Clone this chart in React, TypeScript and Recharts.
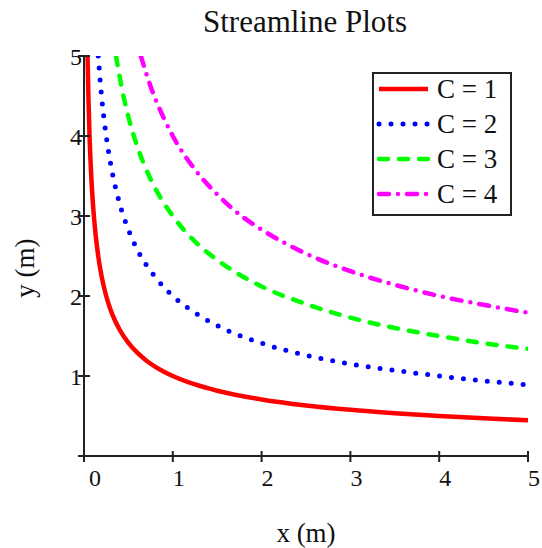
import React from 'react';
import { LineChart, Line, XAxis, YAxis, Label } from 'recharts';

// values, one x/y pair of lists per curve
const xC1 = [0.04, 0.05, 0.06, 0.08, 0.1, 0.13, 0.16, 0.2, 0.25, 0.3, 0.35, 0.4, 0.5, 0.6, 0.7, 0.8, 0.9, 1, 1.25, 1.5, 2, 2.5, 3, 3.5, 4, 4.5, 5];
const yC1 = [5, 4.472, 4.082, 3.536, 3.162, 2.774, 2.5, 2.236, 2, 1.826, 1.69, 1.581, 1.414, 1.291, 1.195, 1.118, 1.054, 1, 0.894, 0.816, 0.707, 0.632, 0.577, 0.535, 0.5, 0.471, 0.447];

const xC2 = [0.16, 0.2, 0.25, 0.3, 0.4, 0.5, 0.6, 0.8, 1, 1.25, 1.5, 2, 2.5, 3, 3.5, 4, 4.5, 5];
const yC2 = [5, 4.47, 4, 3.65, 3.16, 2.83, 2.58, 2.24, 2, 1.79, 1.63, 1.41, 1.26, 1.15, 1.07, 1, 0.94, 0.89];

const xC3 = [0.36, 0.45, 0.5, 0.6, 0.75, 0.9, 1, 1.25, 1.5, 2, 2.5, 3, 3.5, 4, 4.5, 5];
const yC3 = [5, 4.47, 4.24, 3.87, 3.46, 3.16, 3, 2.68, 2.45, 2.12, 1.9, 1.73, 1.6, 1.5, 1.41, 1.34];

const xC4 = [0.64, 0.75, 0.9, 1, 1.25, 1.5, 1.75, 2, 2.5, 3, 3.5, 4, 4.5, 5];
const yC4 = [5, 4.62, 4.22, 4, 3.58, 3.27, 3.02, 2.83, 2.53, 2.31, 2.14, 2, 1.89, 1.79];

const xTicks = [0, 1, 2, 3, 4, 5];
const yTicks = [0, 1, 2, 3, 4, 5];

const FONT = "'Liberation Serif', 'Times New Roman', serif";
const AXIS = '#222';

const zip = (xs: number[], ys: number[]) => xs.map((x, i) => ({ x, y: ys[i] }));

const series = [
  { name: 'C = 1', data: zip(xC1, yC1), color: '#ff0000', width: 4.5, dash: undefined, cap: 'butt' },
  { name: 'C = 2', data: zip(xC2, yC2), color: '#0000ff', width: 5, dash: '0 12', cap: 'round' },
  { name: 'C = 3', data: zip(xC3, yC3), color: '#00ff00', width: 4.5, dash: '9 11', cap: 'round' },
  { name: 'C = 4', data: zip(xC4, yC4), color: '#ff00ff', width: 4.5, dash: '10 9 0 9', cap: 'round' },
];

const XTick = ({ x, y, payload }: any) => (
  <g>
    <line x1={x} x2={x} y1={y - 5} y2={y + 6} stroke={AXIS} strokeWidth={2} />
    <text x={x + (payload.value === 0 ? 5 : 0)} y={y + 30} fontSize={24} fontFamily={FONT} fill="#111" textAnchor="start">
      {payload.value}
    </text>
  </g>
);

const YTick = ({ x, y, payload }: any) => (
  <g>
    <line x1={x - 6} x2={x + 6} y1={y} y2={y} stroke={AXIS} strokeWidth={2} />
    {payload.value !== 0 && (
      <text x={x - 2} y={y + 8.5} fontSize={24} fontFamily={FONT} fill="#111" textAnchor="end">
        {payload.value}
      </text>
    )}
  </g>
);

const LegendBox = () => (
  <div
    style={{
      position: 'absolute',
      left: 372,
      top: 72,
      width: 140,
      height: 144,
      boxSizing: 'border-box',
      border: `2px solid ${AXIS}`,
      background: '#fff',
    }}
  >
    <svg width={136} height={140}>
      {series.map((s, i) => (
        <g key={s.name}>
          <line
            x1={5}
            x2={54}
            y1={15 + i * 35}
            y2={15 + i * 35}
            stroke={s.color}
            strokeWidth={s.width}
            strokeDasharray={s.dash}
            strokeLinecap={s.cap as any}
          />
          <text x={63} y={24 + i * 35} fontSize={27} fontFamily={FONT} fill="#111">
            {s.name}
          </text>
        </g>
      ))}
    </svg>
  </div>
);

export default function App() {
  return (
    <div style={{ position: 'absolute', left: 0, top: 0, width: 542, height: 548, background: '#fff', fontFamily: FONT }}>
      <div
        style={{
          position: 'absolute',
          left: 0,
          top: 7,
          width: 610,
          textAlign: 'center',
          fontSize: 31,
          lineHeight: '30px',
          color: '#111',
        }}
      >
        Streamline Plots
      </div>
      <LineChart width={542} height={548} margin={{ top: 56, right: 14, left: 0, bottom: 0 }}>
        <XAxis
          type="number"
          dataKey="x"
          domain={[0, 5]}
          ticks={xTicks}
          allowDataOverflow
          height={92}
          tickSize={0}
          tickMargin={0}
          tickLine={false}
          axisLine={{ stroke: AXIS, strokeWidth: 2 }}
          tick={<XTick />}
          interval={0}
        >
          <Label
            content={({ viewBox }: any) => (
              <text
                x={viewBox.x + viewBox.width / 2}
                y={viewBox.y + 86}
                textAnchor="middle"
                fontSize={27}
                fontFamily={FONT}
                fill="#111"
              >
                x (m)
              </text>
            )}
          />
        </XAxis>
        <YAxis
          type="number"
          dataKey="y"
          domain={[0, 5]}
          ticks={yTicks}
          allowDataOverflow
          width={84}
          tickSize={0}
          tickMargin={0}
          tickLine={false}
          axisLine={{ stroke: AXIS, strokeWidth: 2 }}
          tick={<YTick />}
          interval={0}
        >
          <Label
            content={({ viewBox }: any) => {
              const cx = 34;
              const cy = viewBox.y + viewBox.height / 2 + 12;
              return (
                <text
                  x={cx}
                  y={cy}
                  transform={`rotate(-90 ${cx} ${cy})`}
                  textAnchor="middle"
                  fontSize={27}
                  fontFamily={FONT}
                  fill="#111"
                >
                  y (m)
                </text>
              );
            }}
          />
        </YAxis>
        {series.map((s) => (
          <Line
            key={s.name}
            data={s.data}
            dataKey="y"
            name={s.name}
            type="monotone"
            stroke={s.color}
            strokeWidth={s.width}
            strokeDasharray={s.dash}
            strokeLinecap={s.cap as any}
            dot={false}
            activeDot={false}
            isAnimationActive={false}
          />
        ))}
      </LineChart>
      <LegendBox />
    </div>
  );
}
